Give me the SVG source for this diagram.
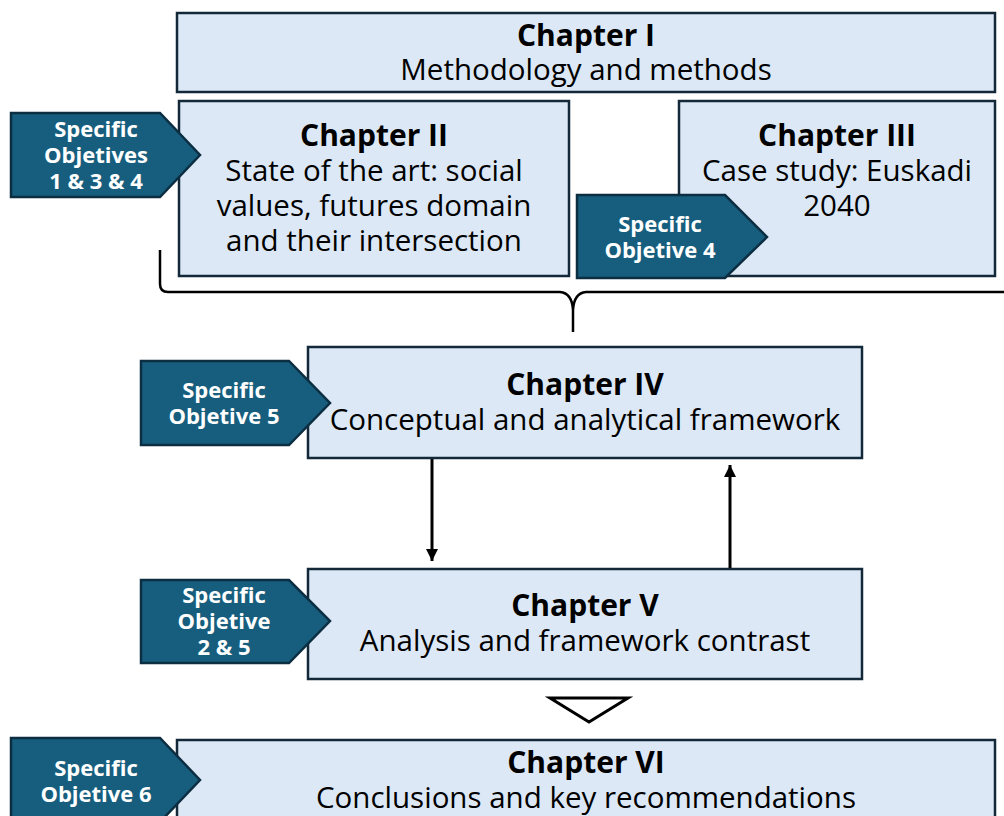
<svg xmlns="http://www.w3.org/2000/svg" width="1004" height="816" viewBox="0 0 1004 816">
  <defs>
    <style>
      .box { fill: #dce8f5; stroke: #13293a; stroke-width: 2.5; }
      .obj { fill: #175e7e; stroke: #0c2e42; stroke-width: 2.5; }
      .ttl { font-family: "Open Sans", "Noto Sans", sans-serif; font-weight: bold; font-size: 30px; fill: #000; text-anchor: middle; }
      .sub { font-family: "Open Sans", "Noto Sans", sans-serif; font-size: 29.5px; fill: #000; text-anchor: middle; }
      .otx { font-family: "Open Sans", "Noto Sans", sans-serif; font-weight: bold; font-size: 22px; fill: #fff; text-anchor: middle; }
      .line { fill: none; stroke: #000; stroke-width: 2.5; }
      .arrow { fill: none; stroke: #000; stroke-width: 3; }
    </style>
    <marker id="head" viewBox="0 0 10 10" refX="10" refY="5" markerWidth="4" markerHeight="4" orient="auto-start-reverse" markerUnits="strokeWidth">
      <path d="M0,0 L10,5 L0,10 z" fill="#000"/>
    </marker>
  </defs>

  <rect width="1004" height="816" fill="#fff"/>

  <!-- Chapter I -->
  <g id="chapter1">
    <rect class="box" x="177" y="13" width="818" height="79"/>
    <text class="ttl" x="586" y="46">Chapter I</text>
    <text class="sub" x="586" y="80">Methodology and methods</text>
  </g>

  <!-- Chapter II -->
  <g id="chapter2">
    <rect class="box" x="179" y="101" width="390" height="175"/>
    <text class="ttl" x="374" y="146">Chapter II</text>
    <text class="sub" x="374" y="181">State of the art: social</text>
    <text class="sub" x="374" y="216">values, futures domain</text>
    <text class="sub" x="374" y="251">and their intersection</text>
  </g>

  <!-- Chapter III -->
  <g id="chapter3">
    <rect class="box" x="679" y="101" width="316" height="175"/>
    <text class="ttl" x="837" y="146">Chapter III</text>
    <text class="sub" x="837" y="181">Case study: Euskadi</text>
    <text class="sub" x="837" y="216">2040</text>
  </g>

  <!-- Objectives feeding Chapters II and III -->
  <g id="obj134">
    <polygon class="obj" points="11,113 160,113 200,155 160,197 11,197"/>
    <text class="otx" x="96" y="137">Specific</text>
    <text class="otx" x="96" y="163">Objetives</text>
    <text class="otx" x="96" y="189">1 &amp; 3 &amp; 4</text>
  </g>
  <g id="obj4">
    <polygon class="obj" points="577,195 725,195 767,237 725,278 577,278"/>
    <text class="otx" x="660" y="232">Specific</text>
    <text class="otx" x="660" y="258">Objetive 4</text>
  </g>

  <!-- Chapter IV -->
  <g id="chapter4">
    <rect class="box" x="308" y="347" width="554" height="111"/>
    <text class="ttl" x="585" y="395">Chapter IV</text>
    <text class="sub" x="585" y="430">Conceptual and analytical framework</text>
  </g>
  <g id="obj5">
    <polygon class="obj" points="141,361 289,361 330,403 289,445 141,445"/>
    <text class="otx" x="224" y="398">Specific</text>
    <text class="otx" x="224" y="424">Objetive 5</text>
  </g>

  <!-- Chapter V -->
  <g id="chapter5">
    <rect class="box" x="308" y="569" width="554" height="110"/>
    <text class="ttl" x="585" y="616">Chapter V</text>
    <text class="sub" x="585" y="651">Analysis and framework contrast</text>
  </g>
  <g id="obj25">
    <polygon class="obj" points="141,580 289,580 330,621 289,663 141,663"/>
    <text class="otx" x="224" y="603">Specific</text>
    <text class="otx" x="224" y="629">Objetive</text>
    <text class="otx" x="224" y="655">2 &amp; 5</text>
  </g>

  <!-- Chapter VI -->
  <g id="chapter6">
    <rect class="box" x="177" y="740" width="818" height="90"/>
    <text class="ttl" x="586" y="773">Chapter VI</text>
    <text class="sub" x="586" y="808">Conclusions and key recommendations</text>
  </g>
  <g id="obj6">
    <polygon class="obj" points="11,738 160,738 200,780 160,822 11,822"/>
    <text class="otx" x="96" y="776">Specific</text>
    <text class="otx" x="96" y="802">Objetive 6</text>
  </g>

  <!-- Connectors -->
  <g id="connectors">
    <path class="line" d="M160,250 V284 Q160,292 168,292 H560 Q572,293 573,310 V332 M573,310 Q574,293 586,292 H1010"/>
    <line class="arrow" x1="432" y1="459" x2="432" y2="561" marker-end="url(#head)"/>
    <line class="arrow" x1="730" y1="568" x2="730" y2="465" marker-end="url(#head)"/>
    <polygon points="550,698 628,698 589,722" fill="#fff" stroke="#000" stroke-width="3"/>
  </g>
</svg>
